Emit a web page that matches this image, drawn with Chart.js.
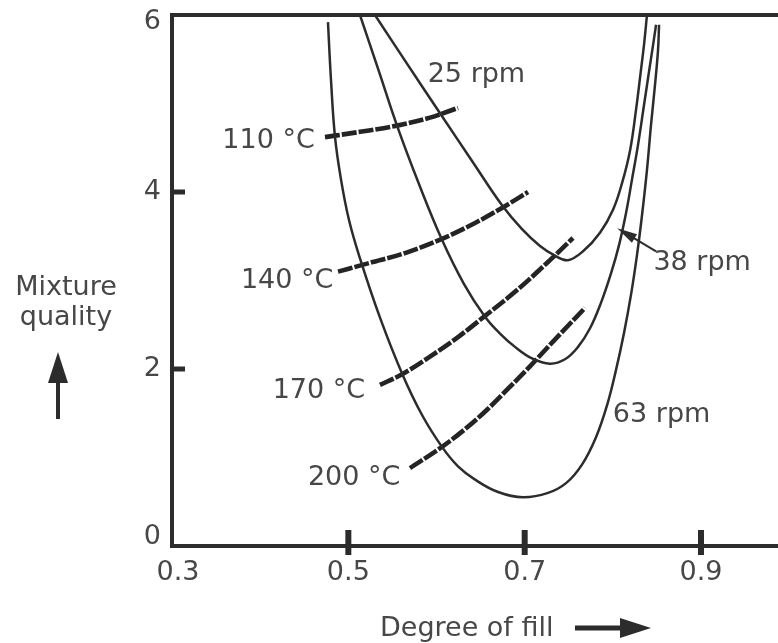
<!DOCTYPE html>
<html>
<head>
<meta charset="utf-8">
<script src="https://cdn.jsdelivr.net/npm/chart.js@4/dist/chart.umd.min.js"></script>
<style>
html,body{margin:0;padding:0;background:#ffffff;}
canvas{display:block;}
</style>
</head>
<body>
<canvas id="c" width="778" height="643"></canvas>
<script>
// ---------- data ----------
const xTicks = [0.3, 0.5, 0.7, 0.9];
const yTicks = [0, 2, 4, 6];

const rpmNames = ['25 rpm', '38 rpm', '63 rpm'];
const rpm25X = [0.5302,0.5665,0.6040,0.6403,0.6743,0.6970,0.7174,0.7344,0.7491,0.7662,0.7854,0.8002,0.8104,0.8195,0.8263,0.8319,0.8353,0.8387];
const rpm25Y = [6.00,5.45,4.89,4.35,3.85,3.58,3.39,3.28,3.23,3.33,3.54,3.80,4.10,4.47,4.93,5.38,5.66,6.00];
const rpm38X = [0.5132,0.5348,0.5552,0.5801,0.6062,0.6312,0.6550,0.6720,0.6890,0.7083,0.7287,0.7457,0.7605,0.7741,0.7866,0.7979,0.8070,0.8149,0.8217,0.8285,0.8353,0.8410,0.8456,0.8490];
const rpm38Y = [6.00,5.36,4.75,4.09,3.46,2.96,2.59,2.40,2.25,2.12,2.06,2.11,2.25,2.46,2.75,3.08,3.40,3.76,4.14,4.53,4.98,5.36,5.66,5.89];
const rpm63X = [0.4769,0.4803,0.4849,0.4917,0.5008,0.5132,0.5359,0.5609,0.5836,0.6062,0.6244,0.6437,0.6698,0.6981,0.7265,0.7469,0.7650,0.7809,0.7934,0.8036,0.8127,0.8206,0.8274,0.8331,0.8387,0.8433,0.8478,0.8512,0.8524];
const rpm63Y = [5.92,5.27,4.62,4.14,3.68,3.25,2.58,1.95,1.48,1.12,0.90,0.75,0.61,0.55,0.60,0.71,0.92,1.23,1.59,1.99,2.41,2.84,3.29,3.74,4.25,4.76,5.21,5.60,5.89];

const tempNames = ['110 °C', '140 °C', '170 °C', '200 °C'];
const t110X = [0.4735,0.5132,0.5552,0.5926,0.6244];
const t110Y = [4.62,4.68,4.75,4.84,4.95];
const t140X = [0.4883,0.5246,0.5643,0.6062,0.6437,0.6743,0.7038];
const t140Y = [3.10,3.20,3.31,3.47,3.65,3.82,4.00];
const t170X = [0.5359,0.5609,0.5926,0.6244,0.6550,0.6924,0.7287,0.7548];
const t170Y = [1.82,1.94,2.14,2.36,2.60,2.90,3.23,3.48];
const t200X = [0.5699,0.6062,0.6323,0.6573,0.6834,0.7060,0.7321,0.7684];
const t200Y = [0.88,1.12,1.32,1.54,1.80,2.03,2.31,2.69];

// label anchors (data units)
const rpmLabelX = [0.590, 0.846, 0.800];
const rpmLabelY = [5.24, 3.12, 1.40];
const tempLabelX = [0.462, 0.483, 0.519, 0.559];   // right end of text
const tempLabelY = [4.50, 2.92, 1.67, 0.69];
const arrow38From = [0.849, 3.33];
const arrow38To = [0.805, 3.59];

const xTitle = 'Degree of fill';
const yTitle = ['Mixture', 'quality'];

// ---------- styling ----------
const INK = '#2c2c2c';
const TEXT = '#474747';
const FONT = '27px "DejaVu Sans"';

function zip(xs, ys){ return xs.map((v,i)=>({x:v, y:ys[i]})); }

const rpmSeries = [[rpm25X,rpm25Y],[rpm38X,rpm38Y],[rpm63X,rpm63Y]];
const tempSeries = [[t110X,t110Y],[t140X,t140Y],[t170X,t170Y],[t200X,t200Y]];

const datasets = [];
rpmSeries.forEach((s,i)=>{
  datasets.push({
    label: rpmNames[i],
    data: zip(s[0], s[1]),
    showLine: true,
    borderColor: INK,
    borderWidth: 2.5,
    pointRadius: 0,
    tension: 0.4,
    fill: false
  });
});
tempSeries.forEach((s,i)=>{
  datasets.push({
    label: tempNames[i],
    data: zip(s[0], s[1]),
    showLine: true,
    borderColor: '#242424',
    borderWidth: 4.6,
    borderDash: [15, 2],
    borderCapStyle: 'butt',
    pointRadius: 0,
    cubicInterpolationMode: 'monotone',
    fill: false
  });
});

const decor = {
  id: 'decor',
  afterDatasetsDraw(chart){
    const {ctx, chartArea:a, scales:{x, y}} = chart;
    ctx.save();
    // frame (left, top, bottom)
    ctx.strokeStyle = INK;
    ctx.lineWidth = 4;
    ctx.lineJoin = 'miter';
    ctx.lineCap = 'butt';
    ctx.beginPath();
    ctx.moveTo(a.right + 4, a.top);
    ctx.lineTo(a.left, a.top);
    ctx.lineTo(a.left, a.bottom);
    ctx.lineTo(a.right + 4, a.bottom);
    ctx.stroke();

    // y ticks (inward)
    ctx.lineWidth = 5;
    yTicks.forEach(v=>{
      if (v === y.min || v === y.max) return;
      const py = y.getPixelForValue(v);
      ctx.beginPath(); ctx.moveTo(a.left, py); ctx.lineTo(a.left + 13, py); ctx.stroke();
    });
    // x ticks (crossing)
    ctx.lineWidth = 6;
    xTicks.forEach(v=>{
      if (v === x.min) return;
      const px = x.getPixelForValue(v);
      ctx.beginPath(); ctx.moveTo(px, a.bottom - 16); ctx.lineTo(px, a.bottom + 9); ctx.stroke();
    });

    // tick labels
    ctx.fillStyle = TEXT;
    ctx.font = FONT;
    ctx.textAlign = 'right';
    ctx.textBaseline = 'middle';
    yTicks.forEach(v=>{
      const py = Math.min(Math.max(y.getPixelForValue(v), a.top + 7), a.bottom - 9);
      ctx.fillText(String(v), a.left - 11, py);
    });
    ctx.textAlign = 'center';
    ctx.textBaseline = 'alphabetic';
    xTicks.forEach((v,i)=>{
      const px = x.getPixelForValue(v) + (i === 0 ? 6 : 0);
      ctx.fillText(v.toFixed(1), px, a.bottom + 34);
    });

    // curve labels
    ctx.textAlign = 'left';
    rpmNames.forEach((t,i)=>{
      ctx.fillText(t, x.getPixelForValue(rpmLabelX[i]), y.getPixelForValue(rpmLabelY[i]));
    });
    ctx.textAlign = 'right';
    tempNames.forEach((t,i)=>{
      ctx.fillText(t, x.getPixelForValue(tempLabelX[i]), y.getPixelForValue(tempLabelY[i]));
    });

    // 38 rpm pointer arrow
    const fx = x.getPixelForValue(arrow38From[0]), fy = y.getPixelForValue(arrow38From[1]);
    const tx = x.getPixelForValue(arrow38To[0]), ty = y.getPixelForValue(arrow38To[1]);
    const ang = Math.atan2(ty - fy, tx - fx);
    ctx.strokeStyle = INK;
    ctx.fillStyle = INK;
    ctx.lineWidth = 2;
    ctx.beginPath(); ctx.moveTo(fx, fy); ctx.lineTo(tx - 14*Math.cos(ang), ty - 14*Math.sin(ang)); ctx.stroke();
    ctx.beginPath();
    ctx.moveTo(tx, ty);
    ctx.lineTo(tx - 20*Math.cos(ang) + 5*Math.sin(ang), ty - 20*Math.sin(ang) - 5*Math.cos(ang));
    ctx.lineTo(tx - 20*Math.cos(ang) - 5*Math.sin(ang), ty - 20*Math.sin(ang) + 5*Math.cos(ang));
    ctx.closePath(); ctx.fill();

    // y-axis title (horizontal) with up arrow
    ctx.fillStyle = TEXT;
    ctx.textAlign = 'center';
    const yx = a.left - 106;
    ctx.fillText(yTitle[0], yx, 295);
    ctx.fillText(yTitle[1], yx, 325);
    ctx.fillStyle = INK; ctx.strokeStyle = INK;
    const ax = a.left - 114;
    ctx.lineWidth = 4;
    ctx.beginPath(); ctx.moveTo(ax, 419); ctx.lineTo(ax, 378); ctx.stroke();
    ctx.beginPath(); ctx.moveTo(ax, 352); ctx.lineTo(ax - 10, 383); ctx.lineTo(ax + 10, 383); ctx.closePath(); ctx.fill();

    // x-axis title with right arrow
    ctx.fillStyle = TEXT;
    ctx.textAlign = 'left';
    ctx.fillText(xTitle, 380, 636);
    ctx.fillStyle = INK;
    ctx.lineWidth = 5;
    ctx.beginPath(); ctx.moveTo(575, 628); ctx.lineTo(625, 628); ctx.stroke();
    ctx.beginPath(); ctx.moveTo(651, 628); ctx.lineTo(620, 618); ctx.lineTo(620, 638); ctx.closePath(); ctx.fill();

    ctx.restore();
  }
};

new Chart(document.getElementById('c'), {
  type: 'scatter',
  data: { datasets },
  options: {
    responsive: false,
    animation: false,
    devicePixelRatio: 1,
    layout: { padding: { left: 172, right: 0, top: 15, bottom: 97 } },
    plugins: { legend: { display: false }, tooltip: { enabled: false } },
    scales: {
      x: { type: 'linear', min: 0.3, max: 0.9873, display: false },
      y: { type: 'linear', min: 0, max: 6, display: false }
    }
  },
  plugins: [decor]
});
</script>
</body>
</html>
